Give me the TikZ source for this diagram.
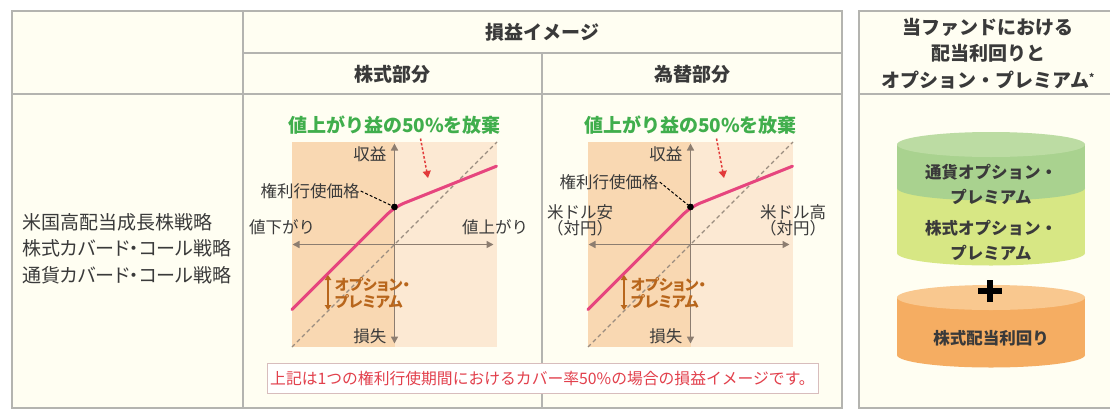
\documentclass[tikz,border=0pt]{standalone}
\usepackage{fontspec}
\newfontfamily\jp{Noto Sans CJK JP}
\newfontfamily\jpp[RawFeature=+palt]{Noto Sans CJK JP}
\usetikzlibrary{arrows.meta}
\definecolor{cream}{HTML}{FFFEF2}
\definecolor{gridc}{HTML}{B4B4B0}
\definecolor{txt}{HTML}{3A3A3A}
\definecolor{peachD}{HTML}{F9D8B2}
\definecolor{peachL}{HTML}{FCE9D3}
\definecolor{axisc}{HTML}{8C7D70}
\definecolor{diagc}{HTML}{9A8D80}
\definecolor{pinkc}{HTML}{E6457E}
\definecolor{greenc}{HTML}{40AE4C}
\definecolor{redc}{HTML}{E23A3A}
\definecolor{brownc}{HTML}{B8661C}
\definecolor{notec}{HTML}{E2404C}
\definecolor{noteb}{HTML}{D8BDBD}
\definecolor{cylG}{HTML}{A9D28F}
\definecolor{cylGt}{HTML}{BCDCA3}
\definecolor{cylY}{HTML}{D7E784}
\definecolor{cylO}{HTML}{F5AD62}
\definecolor{cylOt}{HTML}{F9C88F}
\tikzset{
  gridline/.style={draw=gridc, line width=1.3pt},
  hdr/.style={font=\jp\bfseries\fontsize{19}{26.5}\selectfont, text=txt, align=center, inner sep=0pt},
  bodytext/.style={font=\jpp\fontsize{19}{26.5}\selectfont, text=txt, align=left, inner sep=0pt},
  lbl/.style={font=\jp\fontsize{16.5}{18}\selectfont, text=txt, align=center, inner sep=1pt},
  gtitle/.style={font=\jp\bfseries\fontsize{19}{22}\selectfont, text=greenc, inner sep=0pt},
  premtext/.style={font=\jpp\bfseries\fontsize{15}{17}\selectfont, text=brownc, align=left, inner sep=0pt},
  axisline/.style={draw=axisc, line width=1.5pt, {Triangle[width=7pt,length=7pt]}-{Triangle[width=7pt,length=7pt]}},
  diagline/.style={draw=diagc, line width=1.1pt, dash pattern=on 4pt off 3pt},
  pinkline/.style={draw=pinkc, line width=3pt, line join=round, line cap=round},
  kdot/.style={circle, fill=black, inner sep=0pt, minimum size=6.5pt},
  leader/.style={draw=black, line width=1pt, dash pattern=on 3pt off 2pt},
  redarrow/.style={draw=redc, line width=1.5pt, dash pattern=on 2.5pt off 2pt, -{Triangle[width=8pt,length=7pt]}},
  premarrow/.style={draw=brownc, line width=1.8pt, {Triangle[width=6.5pt,length=5pt]}-{Triangle[width=6.5pt,length=5pt]}},
  cyltext/.style={font=\jp\bfseries\fontsize{16.5}{25}\selectfont, text=txt, align=center, inner sep=0pt},
}
\newcommand\drawpchart[2]{%
\begin{scope}[shift={(#2,244.5)}]
  \fill[peachL] (-102.5,-102.5) rectangle (102.5,102.5);
  \fill[peachD] (-102.5,-102.5) rectangle (0,102.5);
  \coordinate (#1-sw) at (-102.5,102.5);
  \coordinate (#1-ne) at (102.5,-102.5);
  \draw[diagline] (#1-sw) -- (#1-ne);
  \coordinate (#1-xl) at (-102,0);
  \coordinate (#1-xr) at (99,0);
  \coordinate (#1-yt) at (0,-101);
  \coordinate (#1-yb) at (0,99);
  \draw[axisline] (#1-xl) -- (#1-xr);
  \draw[axisline] (#1-yb) -- (#1-yt);
  \coordinate (#1-p0) at (-102.5,65);
  \coordinate (#1-p2) at (102,-78.3);
  \node[kdot] (#1-k) at (0,-37.5) {};
  \draw[pinkline, rounded corners=10pt] (#1-p0) -- (#1-k.center) -- (#1-p2);
  \node[kdot] at (#1-k) {};
  \node[lbl, anchor=east] (#1-up) at (-7,-90) {収益};
  \node[lbl, anchor=east] (#1-dn) at (-7,92) {損失};
  \node[gtitle] (#1-title) at (0,-119.5) {値上がり益の50\%を放棄};
  \coordinate (#1-ra) at (26,-106);
  \coordinate (#1-rb) at (33.5,-66.5);
  \draw[redarrow] (#1-ra) -- (#1-rb);
  \coordinate (#1-ma) at (-66.5,30.5);
  \coordinate (#1-mb) at (-66.5,65.5);
  \draw[premarrow] (#1-ma) -- (#1-mb);
  \node[premtext, anchor=west] (#1-prem) at (-60,49) {オプション・\\プレミアム};
\end{scope}}
\begin{document}
\begin{tikzpicture}[x=1pt,y=-1pt]
\useasboundingbox (0,0) rectangle (1110,410);
\fill[white] (0,0) rectangle (1110,410);
% tables
\fill[cream] (12,11) rectangle (842,408);
\fill[cream] (859,11) rectangle (1125,408);
\draw[gridline] (243,11) -- (243,408);
\draw[gridline] (243,53) -- (842,53);
\draw[gridline] (542,53) -- (542,408);
\draw[gridline] (12,94) -- (842,94);
\draw[gridline] (12,11) rectangle (842,408);
\draw[gridline] (1125,11) -- (859,11) -- (859,408) -- (1125,408);
\draw[gridline] (859,94) -- (1125,94);
% headers
\node[hdr] (h-img) at (542.5,32) {損益イメージ};
\node[hdr] (h-stk) at (392.5,74) {株式部分};
\node[hdr] (h-fx) at (692,74) {為替部分};
\node[hdr] (h-fund) at (988,53.5) {当ファンドにおける\\配当利回りと\\オプション・プレミアム{\fontsize{10}{10}\selectfont\raisebox{6pt}{*}}};
% left text
\node[bodytext, anchor=west] (strat) at (22,248.5) {米国高配当成長株戦略\\株式カバード・コール戦略\\通貨カバード・コール戦略};
% charts
\drawpchart{c1}{394.5}
\drawpchart{c2}{690.5}
\node[lbl] (c1-strike) at (310,191) {権利行使価格};
\draw[leader] (c1-strike.east) -- (c1-k);
\node[lbl] (c1-left) at (282,227) {値下がり};
\node[lbl] (c1-right) at (495,227) {値上がり};
\node[lbl] (c2-strike) at (609,182) {権利行使価格};
\draw[leader] (c2-strike.east) -- (c2-k);
\node[lbl, font=\jp\fontsize{16.5}{16}\selectfont] (c2-left) at (580,220) {米ドル安\\（対円）};
\node[lbl, font=\jp\fontsize{16.5}{16}\selectfont] (c2-right) at (793,220) {米ドル高\\（対円）};
% note
\node[draw=noteb, line width=1pt, fill=white, minimum width=551pt, minimum height=30pt, inner sep=0pt,
      font=\jp\fontsize{15.8}{17}\selectfont, text=notec] (note) at (542.5,378)
      {上記は1つの権利行使期間におけるカバー率50\%の場合の損益イメージです。};
% cylinders
\fill[cylY] (897,188) rectangle (1085,253);
\fill[cylY] (991,253) ellipse [x radius=94, y radius=12.5];
\fill[cylG] (897,144.5) rectangle (1085,188);
\fill[cylG] (991,188) ellipse [x radius=94, y radius=12.5];
\fill[cylGt] (991,144.5) ellipse [x radius=94, y radius=12.5];
\fill[cylO] (897,297.5) rectangle (1085,355);
\fill[cylO] (991,355) ellipse [x radius=94, y radius=12.5];
\fill[cylOt] (991,297.5) ellipse [x radius=94, y radius=12.5];
\node[cyltext] (cy-fx) at (991,184.5) {通貨オプション・\\プレミアム};
\node[cyltext] (cy-st) at (991,240.5) {株式オプション・\\プレミアム};
\node[cyltext] (cy-div) at (991,338) {株式配当利回り};
\coordinate (plus-c) at (990,291);
\draw[line width=6pt] ([xshift=-12pt]plus-c) -- ([xshift=12pt]plus-c);
\draw[line width=6pt] ([yshift=-11pt]plus-c) -- ([yshift=11pt]plus-c);
\end{tikzpicture}
\end{document}
